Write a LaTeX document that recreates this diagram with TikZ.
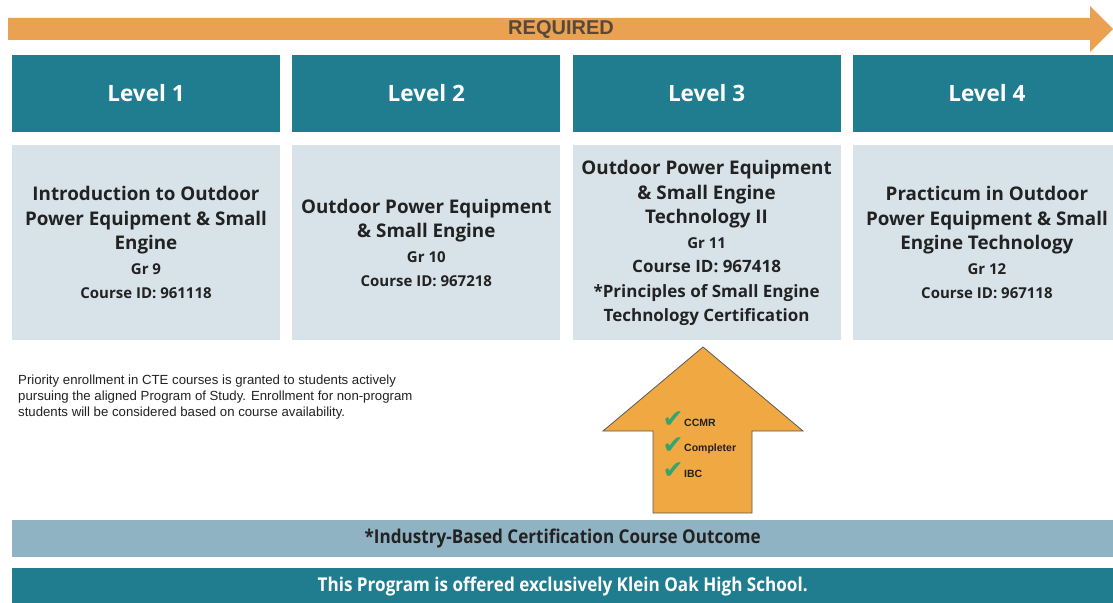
\documentclass[tikz,border=0pt]{standalone}
\usepackage{fontspec}
\setmainfont{Open Sans}
\newfontfamily\arialfont{Liberation Sans}
\newfontfamily\narrowfont[FakeStretch=0.9]{Open Sans}
\newfontfamily\checkfont{DejaVu Sans}
\usetikzlibrary{positioning, calc}

\definecolor{tealhead}{RGB}{31,125,143}
\definecolor{palebox}{RGB}{216,227,233}
\definecolor{steelbar}{RGB}{143,179,195}
\definecolor{orangeband}{RGB}{235,161,82}
\definecolor{orangeup}{RGB}{240,168,66}
\definecolor{inktext}{RGB}{34,34,34}
\definecolor{requiredtext}{RGB}{88,72,56}
\definecolor{tickgreen}{RGB}{52,165,110}

% small lines (grade, course id)
\newcommand{\gr}[1]{{\fontsize{15}{24.5}\selectfont #1}}
\newcommand{\cid}[1]{{\fontsize{17}{24.5}\selectfont #1}}

\tikzset{
  levelbox/.style={fill=tealhead, text=white, minimum width=268pt,
    minimum height=77pt, inner sep=0pt,
    font=\bfseries\fontsize{22.5}{26}\selectfont},
  coursebox/.style={fill=palebox, text=inktext, minimum width=268pt,
    minimum height=195pt, inner sep=0pt, align=center,
    font=\bfseries\fontsize{18.8}{24.5}\selectfont},
  tick/.style={text=tickgreen, font=\checkfont\fontsize{25}{25}\selectfont,
    inner sep=0pt},
  ticklabel/.style={text=inktext, font=\arialfont\bfseries\fontsize{10.5}{11}\selectfont,
    inner sep=0pt, anchor=west},
  bar/.style={minimum width=1101pt, inner sep=0pt, anchor=north west,
    font=\narrowfont\bfseries\fontsize{19}{19}\selectfont}
}

\begin{document}
\begin{tikzpicture}[x=1pt,y=-1pt]
  \useasboundingbox (0,0) rectangle (1113,602);
  \clip (0,0) rectangle (1113,602);
  \fill[white] (0,0) rectangle (1113,602);

  % REQUIRED band
  \fill[orangeband] (8,18) -- (1090,18) -- (1090,6) -- (1113,29)
    -- (1090,52) -- (1090,40) -- (8,40) -- cycle;
  \node[text=requiredtext, font=\arialfont\bfseries\fontsize{20}{20}\selectfont]
    (required) at (561,29) {REQUIRED};

  % level headers
  \foreach \i in {1,...,4}
    \node[levelbox] (level\i) at (146+280.3*\i-280.3,93.5) {Level \i};

  % courses
  \node[coursebox, below=13pt of level1] (course1)
    {Introduction to Outdoor\\Power Equipment \& Small\\Engine\\
     \gr{Gr 9}\\\gr{Course ID: 961118}};
  \node[coursebox, below=13pt of level2] (course2)
    {Outdoor Power Equipment\\\& Small Engine\\
     \gr{Gr 10}\\\gr{Course ID: 967218}};
  \node[coursebox, below=13pt of level3] (course3)
    {Outdoor Power Equipment\\\& Small Engine\\Technology II\\
     \gr{Gr 11}\\\cid{Course ID: 967418}\\
     \cid{*Principles of Small Engine}\\\cid{Technology Certification}};
  \node[coursebox, below=13pt of level4] (course4)
    {Practicum in Outdoor\\Power Equipment \& Small\\Engine Technology\\
     \gr{Gr 12}\\\gr{Course ID: 967118}};

  % priority note
  \node[anchor=north west, align=left, inner sep=0pt, text=inktext,
    font=\arialfont\fontsize{13.2}{16}\selectfont] (note) at (18,375)
    {Priority enrollment in CTE courses is granted to students actively\\
     pursuing the aligned Program of Study. Enrollment for non-program\\
     students will be considered based on course availability.};

  % up arrow
  \draw[fill=orangeup, draw=black!65, line width=0.8pt]
    (703,347) -- (803,431) -- (752,431) -- (752,513) -- (653,513)
    -- (653,431) -- (603,431) -- cycle;
  \node[tick] (tick1) at (673,420) {✔};
  \node[tick] (tick2) at (673,446) {✔};
  \node[tick] (tick3) at (673,471) {✔};
  \node[ticklabel] (ccmr) at (684,423) {CCMR};
  \node[ticklabel] (completer) at (684,449) {Completer};
  \node[ticklabel] (ibc) at (684,474) {IBC};

  % bottom bars
  \node[bar, fill=steelbar, minimum height=37pt, text=inktext] (ibcbar)
    at (12,520) {*Industry-Based Certification Course Outcome};
  \node[bar, fill=tealhead, minimum height=36pt, text=white] (schoolbar)
    at (12,568) {This Program is offered exclusively Klein Oak High School.};
\end{tikzpicture}
\end{document}
